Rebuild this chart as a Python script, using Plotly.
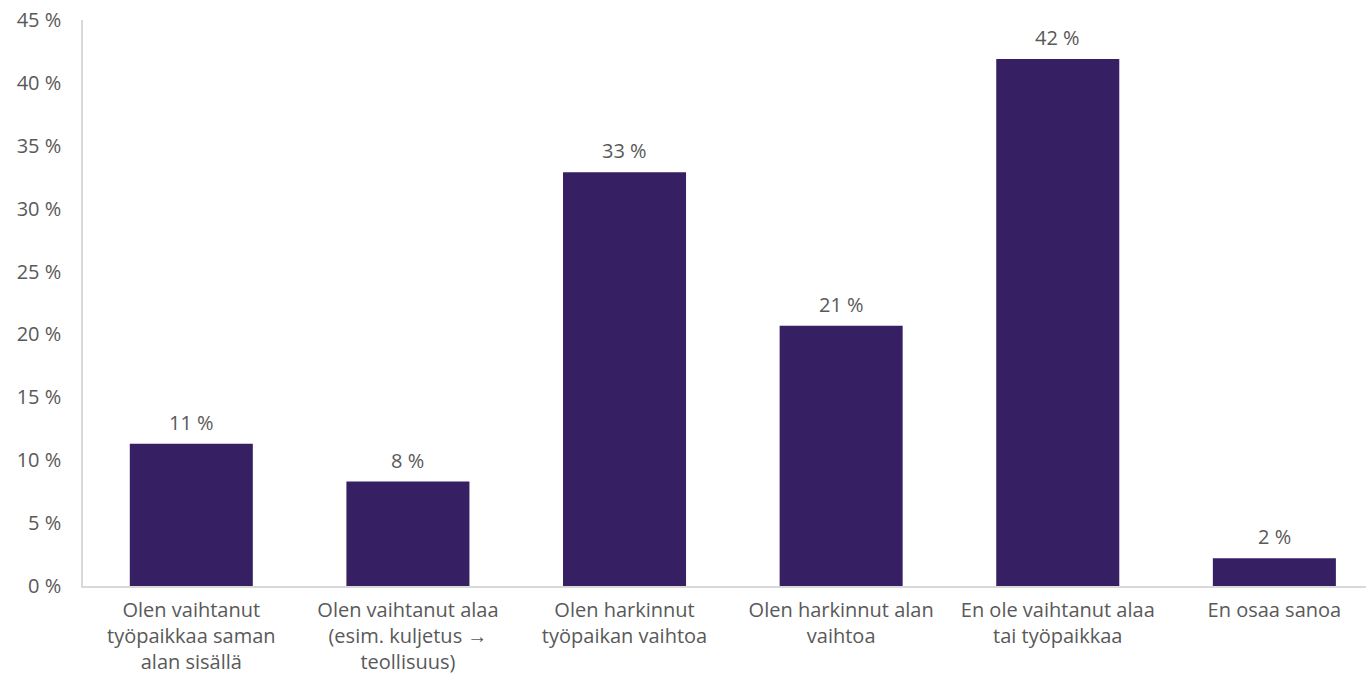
import plotly.graph_objects as go

categories = [
    "Olen vaihtanut<br>työpaikkaa saman<br>alan sisällä",
    "Olen vaihtanut alaa<br>(esim. kuljetus →<br>teollisuus)",
    "Olen harkinnut<br>työpaikan vaihtoa",
    "Olen harkinnut alan<br>vaihtoa",
    "En ole vaihtanut alaa<br>tai työpaikkaa",
    "En osaa sanoa",
]
values = [11.3, 8.3, 32.9, 20.7, 41.9, 2.2]
labels = ["11 %", "8 %", "33 %", "21 %", "42 %", "2 %"]
tick_vals = [0, 5, 10, 15, 20, 25, 30, 35, 40, 45]
tick_text = [f"{v} %" for v in tick_vals]

FONT = "Open Sans, sans-serif"
GRAY = "#595959"
FS = 20

fig = go.Figure(go.Bar(
    x=categories, y=values,
    marker=dict(color="#361F63", line=dict(width=0)),
    hoverinfo="skip",
))
for c, v, t in zip(categories, values, labels):
    fig.add_annotation(x=c, y=v, text=t, showarrow=False, yanchor="bottom",
                       yshift=6, font=dict(family=FONT, size=FS, color=GRAY))

fig.update_layout(
    width=1366, height=674,
    margin=dict(l=83, r=0, t=20, b=88),
    plot_bgcolor="white", paper_bgcolor="white",
    bargap=0.432,
    font=dict(family=FONT, size=FS, color=GRAY),
    showlegend=False,
)
fig.update_yaxes(range=[0, 45], tickvals=tick_vals, ticktext=tick_text,
                 showgrid=False, showline=True, linecolor="#d9d9d9", linewidth=1.5,
                 ticks="", zeroline=False, automargin=False, ticklabelstandoff=16,
                 tickfont=dict(family=FONT, size=FS, color=GRAY))
fig.update_xaxes(range=[-0.5, 5.423], showline=True, linecolor="#d9d9d9", linewidth=1.5,
                 ticks="", showgrid=False, automargin=False, ticklabelstandoff=5,
                 tickfont=dict(family=FONT, size=FS, color=GRAY))
fig.write_html("out.html", config={"displayModeBar": False},
               post_script="document.body.style.margin='0';")
